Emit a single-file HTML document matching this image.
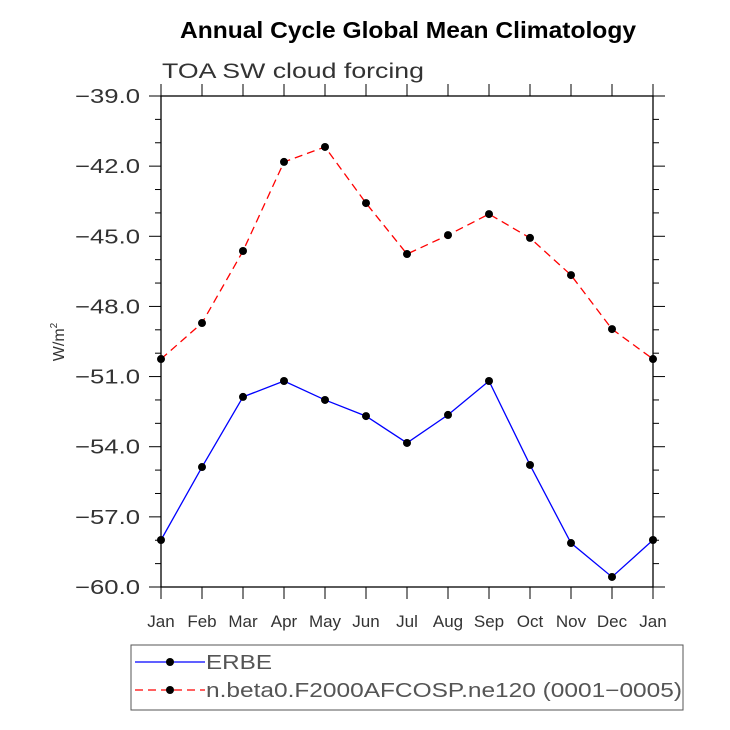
<!DOCTYPE html>
<html><head><meta charset="utf-8"><style>body{margin:0;background:#fff}svg{display:block}text{font-family:"Liberation Sans",sans-serif}</style></head>
<body>
<svg id="c" width="730" height="730" viewBox="0 0 730 730">
<text x="180" y="38" font-size="23" font-weight="bold" textLength="456" lengthAdjust="spacingAndGlyphs">Annual Cycle Global Mean Climatology</text>
<text x="162" y="78" font-size="21" fill="#333" textLength="262" lengthAdjust="spacingAndGlyphs">TOA SW cloud forcing</text>
<text transform="translate(64,342) rotate(-90)" font-size="16" text-anchor="middle" fill="#333">W/m<tspan font-size="10" dy="-7">2</tspan></text>
<g id="axes"></g><g id="series"></g>
<rect x="131" y="645" width="552" height="65" fill="none" stroke="#555"/>
<g>
<line x1="135" y1="662" x2="205" y2="662" stroke="#00f" stroke-width="1.3"/><circle cx="170" cy="662" r="4"/>
<text x="206" y="669" font-size="20" fill="#555" textLength="66" lengthAdjust="spacingAndGlyphs">ERBE</text></g>
<g>
<line x1="135" y1="690" x2="205" y2="690" stroke="#f00" stroke-width="1.3" stroke-dasharray="8,5"/><circle cx="170" cy="690" r="4"/>
<text x="206" y="697" font-size="20" fill="#555" textLength="476" lengthAdjust="spacingAndGlyphs">n.beta0.F2000AFCOSP.ne120 (0001−0005)</text></g>
</svg>
<script>
const months=["Jan","Feb","Mar","Apr","May","Jun","Jul","Aug","Sep","Oct","Nov","Dec","Jan"];
const erbe=[-57.99,-54.87,-51.87,-51.19,-52.0,-52.69,-53.84,-52.64,-51.19,-54.78,-58.12,-59.57,-57.99];
const model=[-50.25,-48.71,-45.63,-41.82,-41.18,-43.58,-45.76,-44.95,-44.05,-45.07,-46.66,-48.97,-50.25];
const yTicks=[-39,-42,-45,-48,-51,-54,-57,-60];
const NS="http://www.w3.org/2000/svg";
const L=161,R=653,T=96,B=587,ymin=-60,ymax=-39;
const xs=i=>L+(R-L)*i/(months.length-1);
const ys=v=>B-(B-T)*(v-ymin)/(ymax-ymin);
function mk(p,t,a){const e=document.createElementNS(NS,t);for(const k in a)e.setAttribute(k,a[k]);p.appendChild(e);return e;}
const ax=document.getElementById('axes');
const fr=mk(ax,'rect',{x:L,y:T,width:R-L,height:B-T,fill:'none',stroke:'#000','stroke-width':1.3});


for(let v=ymin;v<=ymax+0.01;v+=1){const y=ys(v);const major=Math.abs(v%3)<0.01;const len=major?12:6;
 mk(ax,'line',{x1:L-len,x2:L,y1:y,y2:y,stroke:'#000'});mk(ax,'line',{x1:R,x2:R+len,y1:y,y2:y,stroke:'#000'});}
yTicks.forEach(v=>{const t=mk(ax,'text',{x:75,y:ys(v)+7,'font-size':20,fill:'#333',textLength:65,lengthAdjust:'spacingAndGlyphs'});t.textContent='−'+Math.abs(v).toFixed(1);
 
 });
months.forEach((m,i)=>{const x=xs(i);mk(ax,'line',{x1:x,x2:x,y1:B,y2:B+12,stroke:'#000'});mk(ax,'line',{x1:x,x2:x,y1:T-12,y2:T,stroke:'#000'});
 const t=mk(ax,'text',{x:x,y:627,'font-size':17,fill:'#333','text-anchor':'middle'});t.textContent=m;
 
 });
const sg=document.getElementById('series');
function series(d,col,dash,name){const g=mk(sg,'g',{});
 
 
 mk(g,'polyline',{points:d.map((v,i)=>xs(i)+','+ys(v)).join(' '),fill:'none',stroke:col,'stroke-width':1.3,'stroke-dasharray':dash});
 d.forEach((v,i)=>{const c=mk(g,'circle',{cx:xs(i),cy:ys(v),r:4});
  
  });}
series(erbe,'#00f','none','erbe-series');
series(model,'#f00','8,5','model-series');
</script>
</body></html>
